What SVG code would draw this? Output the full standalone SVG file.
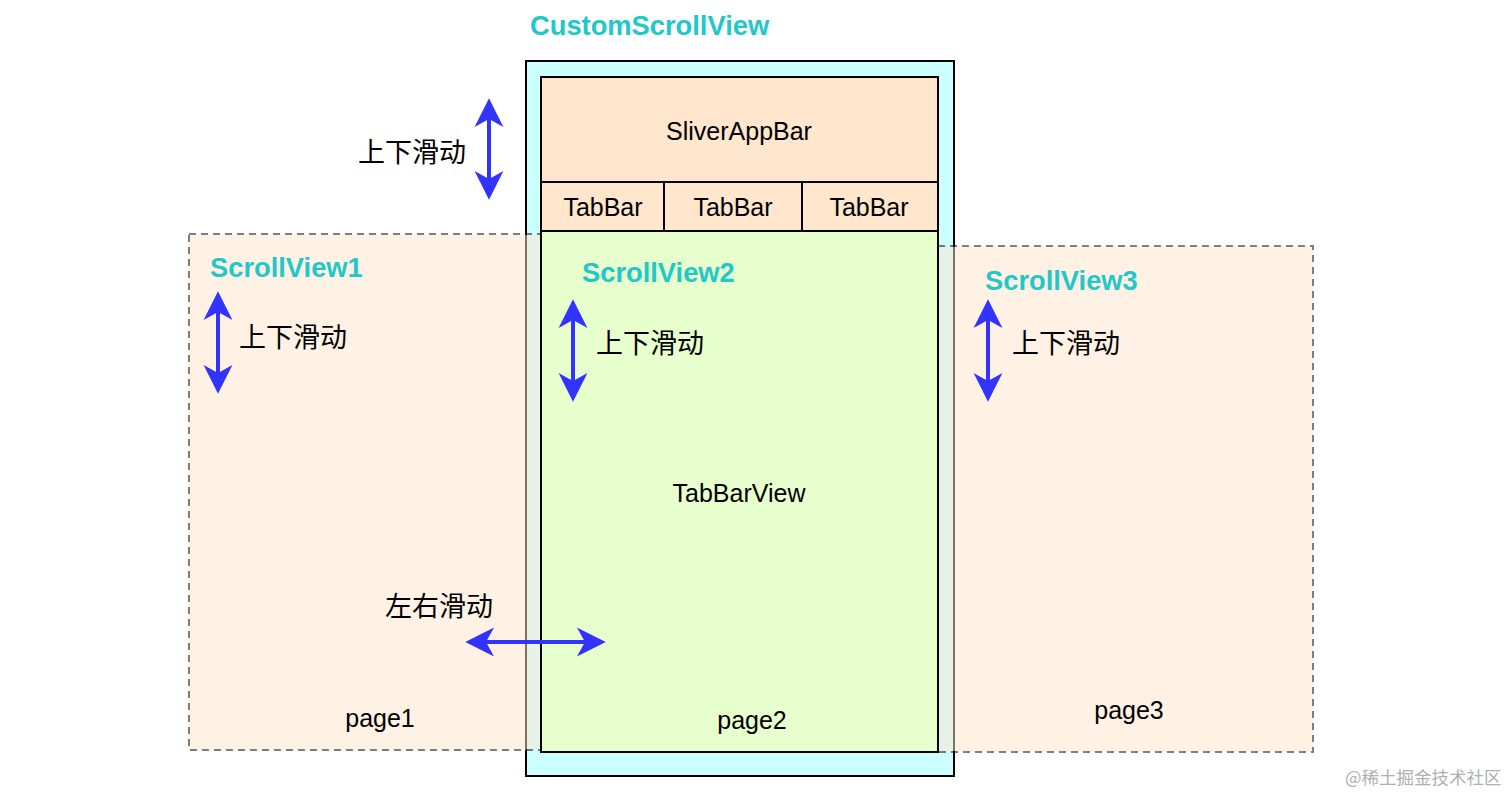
<svg xmlns="http://www.w3.org/2000/svg" width="1512" height="795" viewBox="0 0 1512 795">
<style>
.box{stroke:#000;stroke-width:2}
.page{fill:#ffe6cc;stroke:#000;stroke-width:2;stroke-dasharray:7 5;opacity:0.5}
.t{font-family:"Liberation Sans",Arial,"Noto Sans CJK SC",sans-serif;font-size:25px;fill:#000}
.m{text-anchor:middle}
.title{font-family:"Liberation Sans",Arial,sans-serif;font-weight:bold;font-size:27.3px;fill:#22c7c9}
.cn{font-family:"Noto Sans CJK SC",sans-serif;font-size:27px;fill:#000}
.arr{stroke:#3333ff;stroke-width:4;fill:none;marker-start:url(#ah);marker-end:url(#ah)}
.wm{font-family:"Noto Sans CJK SC",sans-serif;font-size:17.5px;fill:#b0b0b0}
</style>
<defs>
<marker id="ah" markerUnits="userSpaceOnUse" markerWidth="30" markerHeight="30" viewBox="0 -13 25 26" refX="7" refY="0" orient="auto-start-reverse">
<path d="M0,-12.5 L25,0 L0,12.5 L7,0 Z" fill="#3333ff"/>
</marker>
</defs>
<rect width="1512" height="795" fill="#fff"/>
<g id="customScrollView">
<rect class="box" x="526" y="61" width="428" height="715" fill="#ccffff"/>
<text class="title" x="530" y="35">CustomScrollView</text>
</g>
<g id="sliverAppBar">
<rect class="box" x="541" y="77" width="397" height="105" fill="#ffe6cc"/>
<text class="t m" x="739" y="140">SliverAppBar</text>
</g>
<g id="tab1">
<rect class="box" x="541" y="182" width="123" height="49" fill="#ffe6cc"/>
<text class="t m" x="603" y="216">TabBar</text>
</g>
<g id="tab2">
<rect class="box" x="664" y="182" width="138" height="49" fill="#ffe6cc"/>
<text class="t m" x="733" y="216">TabBar</text>
</g>
<g id="tab3">
<rect class="box" x="802" y="182" width="136" height="49" fill="#ffe6cc"/>
<text class="t m" x="869" y="216">TabBar</text>
</g>
<g id="page1">
<rect class="page" x="189" y="234" width="352" height="516"/>
<text class="title" x="210" y="277">ScrollView1</text>
<text class="cn" x="239" y="347">上下滑动</text>
<text class="t m" x="380" y="727">page1</text>
</g>
<g id="page3">
<rect class="page" x="938" y="246" width="375" height="506"/>
<text class="title" x="985" y="290">ScrollView3</text>
<text class="cn" x="1012" y="353">上下滑动</text>
<text class="t m" x="1129" y="719">page3</text>
</g>
<g id="tabBarView">
<rect class="box" x="541" y="231" width="397" height="521" fill="#e6ffcc"/>
<text class="title" x="582" y="282">ScrollView2</text>
<text class="cn" x="596" y="353">上下滑动</text>
<text class="t m" x="739" y="502">TabBarView</text>
<text class="t m" x="752" y="729">page2</text>
</g>
<g id="labels">
<text class="cn" x="358" y="162">上下滑动</text>
<text class="cn" x="385" y="616">左右滑动</text>
</g>
<g id="connectors">
<line class="arr" x1="489" y1="119" x2="489" y2="179"/>
<line class="arr" x1="218" y1="312" x2="218" y2="373"/>
<line class="arr" x1="573" y1="320" x2="573" y2="381"/>
<line class="arr" x1="988" y1="320" x2="988" y2="381"/>
<line class="arr" x1="486" y1="642" x2="585" y2="642"/>
</g>
<text class="wm" x="1345" y="784">@稀土掘金技术社区</text>
</svg>
